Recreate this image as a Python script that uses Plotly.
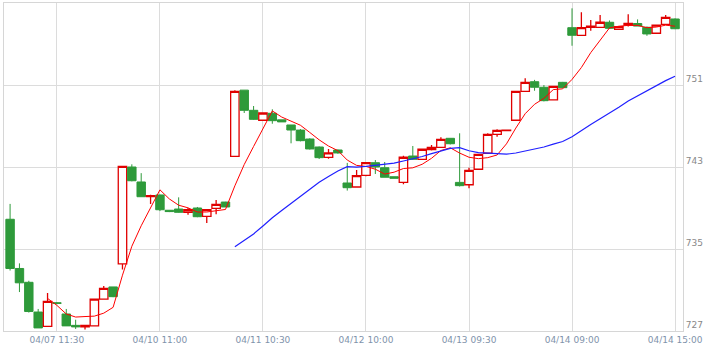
import plotly.graph_objects as go
import pandas as pd

# OHLC values (one per bar)
opens = [737.9, 733.1, 731.75, 728.85, 727.46, 729.75, 728.66, 727.55, 727.4, 727.5,
         730.1, 731.3, 733.55, 743.0, 741.54, 740.1, 740.27, 738.78, 738.9, 738.58,
         739.0, 738.19, 738.97, 739.58, 744.04, 750.5, 748.53, 747.56, 748.24, 747.6,
         747.1, 746.6, 745.73, 744.95, 743.94, 744.66, 741.44, 741.05, 742.19, 743.42,
         742.93, 742.05, 741.5, 744.07, 743.75, 744.69, 744.92, 745.8, 741.5, 741.27,
         742.78, 744.34, 746.19, 746.55, 747.56, 750.38, 751.32, 750.78, 749.54, 751.26,
         756.59, 755.85, 756.63, 756.63, 757.12, 756.43, 756.85, 757.0, 756.63, 756.05,
         756.92, 757.44]
highs = [739.4, 733.6, 731.9, 729.15, 730.7, 729.8, 729.15, 728.1, 727.6, 730.1,
         731.4, 731.3, 743.1, 743.26, 742.4, 740.3, 740.3, 738.8, 740.04, 739.0,
         739.1, 738.9, 739.78, 739.6, 750.5, 750.5, 748.95, 748.3, 748.63, 747.6,
         747.1, 746.7, 745.8, 745.0, 744.76, 744.7, 743.4, 742.7, 743.5, 743.68,
         743.49, 742.05, 744.1, 745.05, 744.8, 745.15, 745.9, 745.8, 746.29, 742.93,
         744.3, 746.3, 746.68, 746.65, 750.4, 751.65, 751.5, 751.0, 750.9, 751.3,
         758.48, 758.09, 757.34, 757.83, 757.3, 756.7, 757.9, 757.4, 756.7, 756.9,
         757.83, 757.5]
lows = [732.9, 730.8, 728.8, 727.3, 727.46, 729.6, 727.5, 727.2, 727.15, 727.5,
        730.1, 730.3, 733.0, 741.6, 740.1, 739.4, 738.7, 738.6, 738.55, 738.35,
        738.1, 737.54, 738.39, 739.1, 744.0, 748.27, 747.6, 747.5, 747.22, 747.4,
        745.31, 745.5, 744.7, 743.78, 743.8, 744.3, 740.7, 741.0, 742.1, 742.32,
        742.0, 741.9, 741.31, 743.7, 743.7, 744.6, 744.9, 745.2, 741.1, 740.92,
        742.7, 744.3, 745.96, 746.5, 747.5, 750.35, 750.44, 749.4, 749.5, 750.7,
        754.83, 755.8, 756.3, 756.6, 756.5, 756.4, 756.7, 756.75, 755.8, 756.0,
        756.9, 756.45]
closes = [733.1, 731.7, 728.9, 727.3, 729.9, 729.7, 727.5, 727.4, 727.55, 730.1,
          731.15, 730.35, 743.07, 741.66, 740.1, 740.2, 738.83, 738.65, 738.58, 738.83,
          738.15, 738.84, 739.36, 739.1, 750.38, 748.53, 747.65, 748.27, 747.52, 747.4,
          746.61, 745.57, 744.76, 743.91, 744.37, 744.37, 740.98, 742.15, 743.42, 743.0,
          742.0, 741.9, 743.95, 743.75, 744.73, 744.92, 745.7, 745.27, 741.18, 742.68,
          744.24, 746.19, 746.58, 746.6, 750.38, 751.26, 750.78, 749.47, 750.87, 750.74,
          755.85, 756.59, 756.75, 757.12, 756.53, 756.69, 757.0, 756.75, 755.98, 756.85,
          757.6, 756.49]

tick_labels = ["04/07 11:30", "04/10 11:00", "04/11 10:30", "04/12 10:00",
               "04/13 09:30", "04/14 09:00", "04/14 15:00"]
tick_bars = [5, 16, 27, 38, 49, 60, 71]
y_ticks = [727, 735, 743, 751]

bars = list(range(len(closes)))
ma_short = pd.Series(closes).rolling(5).mean()
ma_long = pd.Series(closes).rolling(25).mean()

RED = "#e00000"
GREEN = "#2e9a3a"

fig = go.Figure()
fig.add_trace(go.Candlestick(
    x=bars, open=opens, high=highs, low=lows, close=closes,
    increasing=dict(line=dict(color=RED, width=1.3), fillcolor="#ffffff"),
    decreasing=dict(line=dict(color=GREEN, width=1), fillcolor=GREEN),
    whiskerwidth=0, hoverinfo="skip", showlegend=False,
))
fig.add_trace(go.Scatter(x=bars, y=ma_short, mode="lines",
                         line=dict(color="#ff0000", width=1), hoverinfo="skip",
                         showlegend=False))
fig.add_trace(go.Scatter(x=bars, y=ma_long, mode="lines",
                         line=dict(color="#2020ff", width=1.2), hoverinfo="skip",
                         showlegend=False))

fig.update_layout(
    width=707, height=350,
    margin=dict(l=4, r=24, t=3, b=19),
    paper_bgcolor="white", plot_bgcolor="white",
    boxgap=0.1, boxgroupgap=0,
    font=dict(family="DejaVu Sans", size=9, color="#888888"),
    xaxis=dict(
        range=[-0.65, 71.85], tickmode="array", tickvals=tick_bars, ticktext=tick_labels,
        showgrid=True, gridcolor="#dcdcdc", gridwidth=1,
        showline=True, linecolor="#d6d6d6", mirror=True, zeroline=False,
        ticks="", rangeslider=dict(visible=False),
        tickfont=dict(color="#7f93ab", size=9),
    ),
    yaxis=dict(
        range=[727, 759], tickmode="array", tickvals=y_ticks, side="right",
        showgrid=True, gridcolor="#dcdcdc", gridwidth=1,
        showline=True, linecolor="#d6d6d6", mirror=True, zeroline=False,
        ticks="", ticklabelposition="outside top",
        tickfont=dict(color="#888888", size=9),
    ),
)

fig.write_html("out.html")
